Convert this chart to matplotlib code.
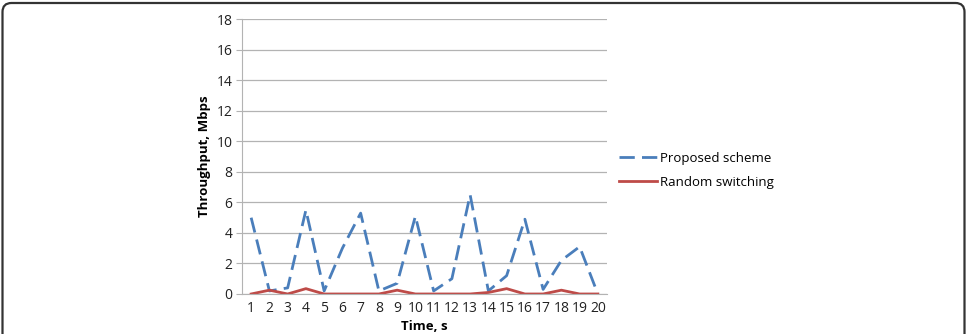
import matplotlib
matplotlib.use('Agg')
import matplotlib.pyplot as plt
from matplotlib.patches import FancyBboxPatch
from matplotlib.transforms import IdentityTransform

plt.rcParams['font.family'] = ['Open Sans', 'DejaVu Sans']

# 数据
time_s = list(range(1, 21))
proposed = [5.0, 0.2, 0.4, 5.5, 0.2, 3.0, 5.3, 0.2, 0.7, 5.1,
            0.2, 1.0, 6.5, 0.2, 1.2, 4.9, 0.3, 2.2, 3.1, 0.0]
random_sw = [0.0, 0.25, 0.0, 0.35, 0.0, 0.0, 0.0, 0.0, 0.25, 0.0,
             0.0, 0.0, 0.0, 0.1, 0.35, 0.0, 0.0, 0.25, 0.0, 0.0]
y_ticks = list(range(0, 19, 2))

fig = plt.figure(figsize=(9.67, 3.34), dpi=100)

# 外框（圆角，底部被裁掉），像素坐标
frame = FancyBboxPatch((2.5, -40), 962, 40 + 334 - 3,
                       boxstyle='round,pad=0,rounding_size=9',
                       transform=IdentityTransform(), fill=False,
                       edgecolor='#333333', linewidth=1.6)
fig.patches.append(frame)

ax = fig.add_axes([0.2503, 0.1198, 0.3774, 0.8224])
ax.plot(time_s, proposed, color='#4a7ebb', lw=2.0, dashes=(5.5, 2.6),
        label='Proposed scheme')
ax.plot(time_s, random_sw, color='#be4b48', lw=2.0, label='Random switching')

ax.set_xlim(0.5, 20.5)
ax.set_ylim(0, 18)
ax.set_yticks(y_ticks)
ax.set_xticks(time_s)
ax.grid(axis='y', color='#b3b3b3', lw=0.9)
ax.set_axisbelow(True)
for s in ['top', 'right']:
    ax.spines[s].set_visible(False)
for s in ['left', 'bottom']:
    ax.spines[s].set_color('#b3b3b3')
ax.tick_params(axis='y', length=4, color='#b3b3b3', labelsize=10, labelcolor='#222222', pad=3)
ax.tick_params(axis='x', length=0, labelsize=10, labelcolor='#222222', pad=5)
ax.set_ylabel('Throughput, Mbps', fontsize=9.5, fontweight='bold', labelpad=4)
ax.set_xlabel('Time, s', fontsize=9.5, fontweight='bold', labelpad=3)

ax.legend(loc='center left', bbox_to_anchor=(1.0, 0.45), frameon=False,
          fontsize=9.5, handlelength=2.9, handletextpad=0.2, labelspacing=0.8)

fig.savefig('out.png', dpi=100)
